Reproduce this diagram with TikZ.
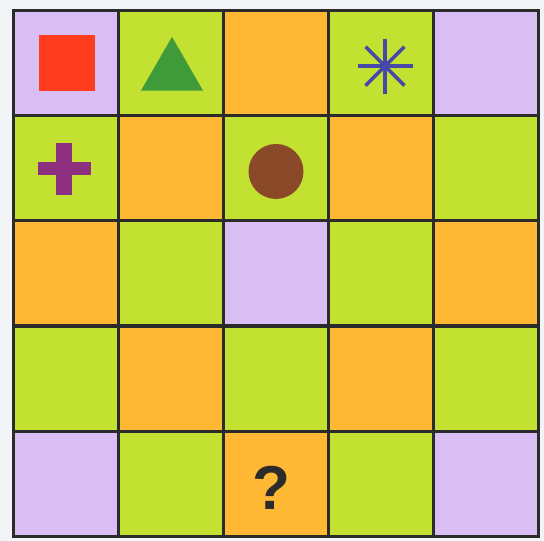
\documentclass[tikz,border=0pt]{standalone}
\usepackage{fontspec}
\setsansfont{Liberation Sans}
\usetikzlibrary{calc,shapes.geometric}
\definecolor{lilac}{HTML}{D8BEF2}
\definecolor{lime}{HTML}{C2E130}
\definecolor{amber}{HTML}{FFB834}
\definecolor{paper}{HTML}{F1F5F8}
\definecolor{gridline}{HTML}{2B2B2B}
\definecolor{redsq}{HTML}{FF3C1E}
\definecolor{greentri}{HTML}{3F9B3A}
\definecolor{bluestar}{HTML}{4848A8}
\definecolor{purplecross}{HTML}{8E2F80}
\definecolor{browndot}{HTML}{8A4A2A}
\begin{document}
\begin{tikzpicture}[
  x=1pt, y=-1pt,
  cell/.style={draw=gridline, line width=3pt, minimum size=105pt,
               inner sep=0pt, outer sep=0pt}
]
  \fill[paper] (0,0) rectangle (544,541);
  \useasboundingbox (0,0) rectangle (544,541);
  % colour pattern of the board, row by row
  \foreach \cols [count=\r] in {
      {lilac,lime,amber,lime,lilac},
      {lime,amber,lime,amber,lime},
      {amber,lime,lilac,lime,amber},
      {lime,amber,lime,amber,lime},
      {lilac,lime,amber,lime,lilac}}
    \foreach \fillc [count=\c] in \cols
      \node[cell, fill=\fillc] (c\r\c) at (13+105*\c-52.5, 10+105.3*\r-52.65) {};
  % the symbols
  \node[fill=redsq, minimum size=56pt, inner sep=0pt] (sq) at ([xshift=1.5pt]c11) {};
  \node[regular polygon, regular polygon sides=3, fill=greentri,
        minimum size=71.6pt, inner sep=0pt] (tri) at ([xshift=1.5pt, yshift=-10pt]c12) {};
  \coordinate (star) at ([xshift=4.5pt, yshift=-3.5pt]c14);
  \foreach \a in {0,45,...,315}
    \draw[bluestar, line width=3.5pt] (star) -- ++(\a:27.5pt);
  \coordinate (plus) at ([xshift=-1.5pt, yshift=-1pt]c21);
  \fill[purplecross] ($(plus)+(-26.5pt,-6.5pt)$) rectangle ($(plus)+(26.5pt,6.5pt)$);
  \fill[purplecross] ($(plus)+(-8pt,-26pt)$) rectangle ($(plus)+(8pt,26pt)$);
  \node[circle, fill=browndot, minimum size=55pt, inner sep=0pt] (dot) at ([xshift=0.5pt, yshift=-3.5pt]c23) {};
  \node[text=gridline, font=\sffamily\bfseries\fontsize{62}{62}\selectfont] (q) at ([xshift=-4pt, yshift=-4pt]c53) {?};
\end{tikzpicture}
\end{document}
